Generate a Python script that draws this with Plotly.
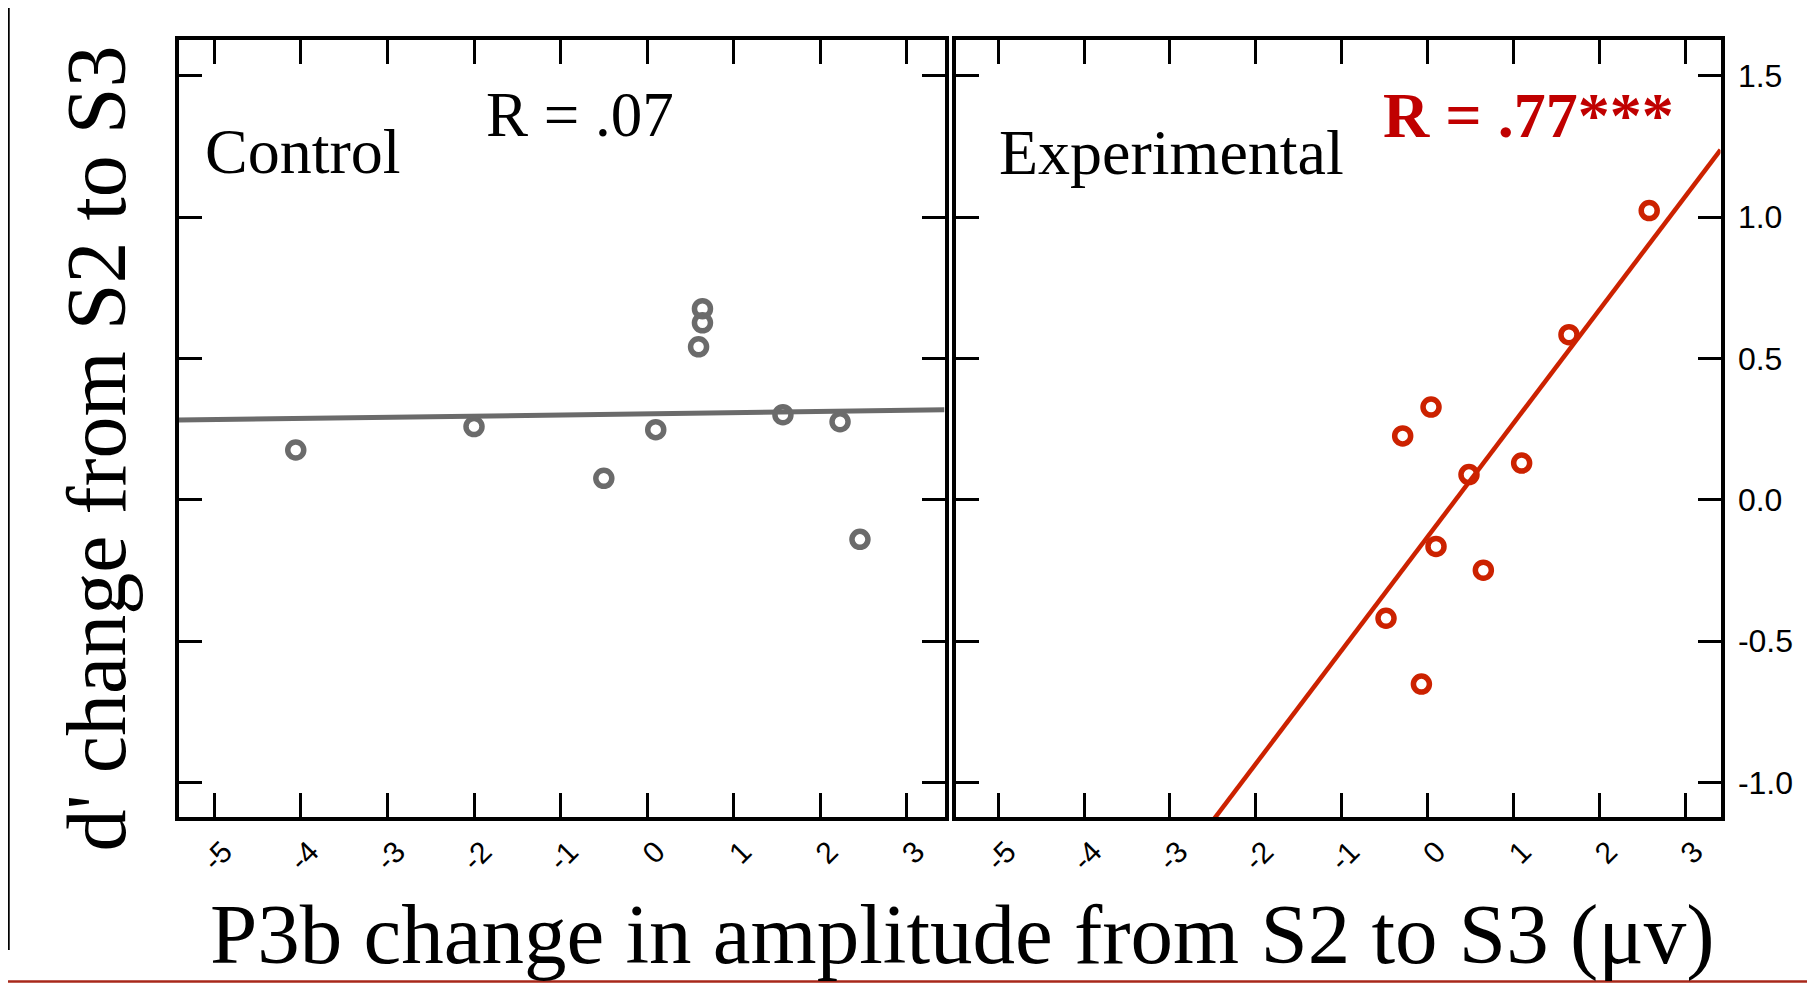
import plotly.graph_objects as go

W, H = 1815, 989
OFF = 8  # page body margin: figure origin sits at (8, 8) on screen

# ---- data ----
x_ticks = [-5, -4, -3, -2, -1, 0, 1, 2, 3]
x_ticklabels = ["-5", "-4", "-3", "-2", "-1", "0", "1", "2", "3"]
y_ticks = [-1.0, -0.5, 0.0, 0.5, 1.0, 1.5]
y_ticklabels = ["-1.0", "-0.5", "0.0", "0.5", "1.0", "1.5"]

control_x = [-4.06, -2.00, -0.50, 0.10, 0.595, 0.64, 0.64, 1.57, 2.23, 2.46]
control_y = [0.176, 0.259, 0.076, 0.248, 0.541, 0.626, 0.676, 0.301, 0.276, -0.140]
control_fit = {"intercept": 0.304, "slope": 0.0041}

exp_x = [2.58, 1.646, 0.04, -0.29, 0.482, 1.095, 0.098, 0.649, -0.484, -0.072]
exp_y = [1.023, 0.584, 0.328, 0.226, 0.089, 0.130, -0.165, -0.249, -0.419, -0.652]
exp_fit = {"intercept": -0.131, "slope": 0.4014}

left_xrange = [-5.415, 3.437]
right_xrange = [-5.496, 3.410]
yrange = [-1.122, 1.628]

GREY = "#6b6b6b"
RED = "#cc2200"
TXT_RED = "#c00000"
SERIF = "Liberation Serif, Times New Roman, serif"
SANS = "Liberation Sans, Arial, Helvetica, sans-serif"


def px_x(p):
    return (p - OFF) / W


def px_y(p):
    return 1 - (p - OFF) / H


fig = go.Figure()


def marker_style(c):
    return dict(symbol="circle-open", size=16, color=c, line=dict(width=5.5, color=c))


fig.add_trace(go.Scatter(x=control_x, y=control_y, mode="markers",
                         marker=marker_style(GREY), xaxis="x", yaxis="y"))
fig.add_trace(go.Scatter(x=left_xrange,
                         y=[control_fit["intercept"] + control_fit["slope"] * v for v in left_xrange],
                         mode="lines", line=dict(color=GREY, width=5), xaxis="x", yaxis="y"))
fig.add_trace(go.Scatter(x=exp_x, y=exp_y, mode="markers",
                         marker=marker_style(RED), xaxis="x2", yaxis="y2"))
fig.add_trace(go.Scatter(x=right_xrange,
                         y=[exp_fit["intercept"] + exp_fit["slope"] * v for v in right_xrange],
                         mode="lines", line=dict(color=RED, width=4.5), xaxis="x2", yaxis="y2"))

ydom = [px_y(817), px_y(39.5)]

common_x = dict(tickmode="array", tickvals=x_ticks, ticktext=x_ticklabels,
                ticks="inside", ticklen=24, tickwidth=3, tickcolor="black",
                showline=True, linewidth=4, linecolor="black", mirror="allticks",
                showgrid=False, zeroline=False, tickangle=-45,
                tickfont=dict(family=SANS, size=30, color="black"),
                ticklabelstandoff=1, ticklabelshift=9)
common_y = dict(tickmode="array", tickvals=y_ticks, ticktext=y_ticklabels,
                ticks="inside", ticklen=23, tickwidth=3, tickcolor="black",
                showline=True, linewidth=4, linecolor="black", mirror="allticks",
                showgrid=False, zeroline=False, range=yrange, domain=ydom,
                tickfont=dict(family=SANS, size=32, color="black"))

fig.update_layout(
    width=W, height=H, autosize=False,
    margin=dict(l=0, r=0, t=0, b=0),
    paper_bgcolor="white", plot_bgcolor="white",
    showlegend=False,
    xaxis=dict(domain=[px_x(178.5), px_x(944.5)], range=left_xrange, anchor="y", **common_x),
    yaxis=dict(anchor="x", showticklabels=False, **common_y),
    xaxis2=dict(domain=[px_x(955.5), px_x(1720.5)], range=right_xrange, anchor="y2", **common_x),
    yaxis2=dict(anchor="x2", side="right", showticklabels=True, ticklabelstandoff=7, **common_y),
)

annotations = [
    dict(text="Control", x=px_x(203), y=px_y(151.7), xanchor="left", yanchor="middle",
         font=dict(family=SERIF, size=64, color="black")),
    dict(text="R = .07", x=px_x(484), y=px_y(115), xanchor="left", yanchor="middle",
         font=dict(family=SERIF, size=63, color="black")),
    dict(text="Experimental", x=px_x(996.5), y=px_y(152.4), xanchor="left", yanchor="middle",
         font=dict(family=SERIF, size=64, color="black")),
    dict(text="<b>R = .77***</b>", x=px_x(1380.5), y=px_y(115), xanchor="left", yanchor="middle",
         font=dict(family=SERIF, size=64, color=TXT_RED)),
    dict(text="d' change from S2 to S3", x=px_x(96), y=px_y(448.5), xanchor="center",
         yanchor="middle", textangle=-90,
         font=dict(family=SERIF, size=84, color="black")),
    dict(text="P3b change in amplitude from S2 to S3 (\u03bcv)", x=px_x(962), y=px_y(934),
         xanchor="center", yanchor="middle",
         font=dict(family=SERIF, size=85, color="black")),
]
for a in annotations:
    a.update(xref="paper", yref="paper", showarrow=False)
fig.update_layout(annotations=annotations)

fig.update_layout(shapes=[
    dict(type="line", xref="paper", yref="paper", x0=0.0004, x1=0.0004, y0=px_y(950), y1=1,
         line=dict(color="black", width=2)),
    dict(type="line", xref="paper", yref="paper", x0=0, x1=1, y0=px_y(981.5), y1=px_y(981.5),
         line=dict(color="#a8281a", width=2.5)),
])

fig.write_html("out.html")
